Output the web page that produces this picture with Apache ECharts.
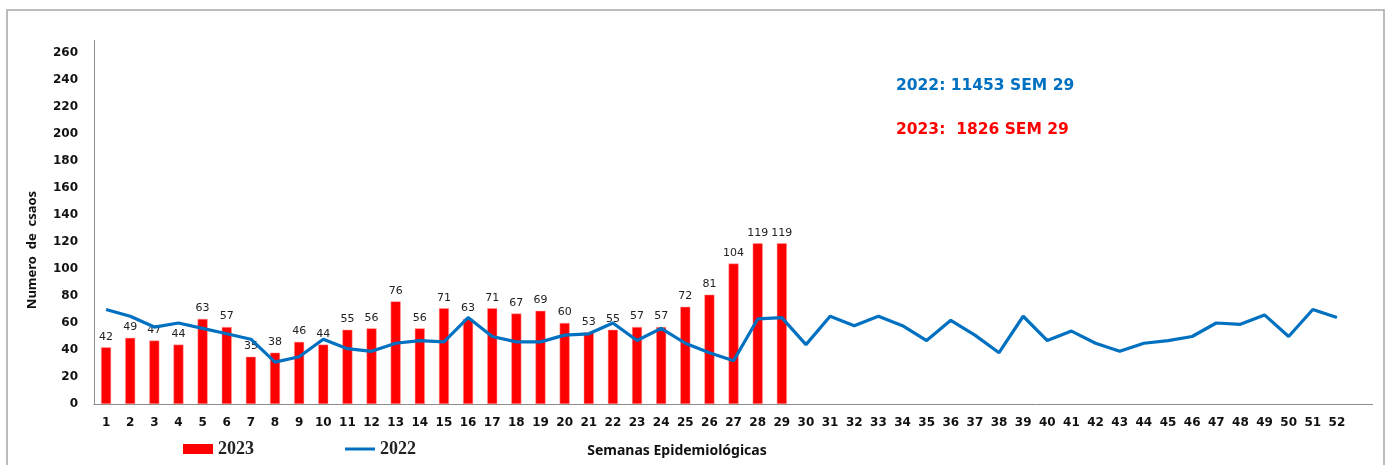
<!DOCTYPE html>
<html>
<head>
<meta charset="utf-8">
<script src="https://cdn.jsdelivr.net/npm/echarts@6/dist/echarts.min.js"></script>
<style>html,body{margin:0;padding:0;background:#fff;}#c{width:1386px;height:465px;}</style>
</head>
<body>
<div id="c"></div>
<script>
var weeks = [];
for (var i = 1; i <= 52; i++) weeks.push(String(i));
var cases2023 = [42,49,47,44,63,57,35,38,46,44,55,56,76,56,71,63,71,67,69,60,53,55,57,57,72,81,104,119,119];
var cases2022 = [70,65,57,60,56,52,48,31,35,48,41,39,45,47,46,64,50,46,46,51,52,60,47,56,45,38,32,63,64,44,65,58,65,58,47,62,51,38,65,47,54,45,39,45,47,50,60,59,66,50,70,64];
var yTicks = {min: 0, max: 260, interval: 20};

var legendText = {fontFamily: 'Liberation Serif', fontWeight: 'bold', fontSize: 18, color: '#222'};
var chart = echarts.init(document.getElementById('c'));
chart.setOption({
  animation: false,
  backgroundColor: '#fff',
  grid: {left: 94, right: 37, top: 53, bottom: 61},
  legend: [{
    data: [{name: '2023', icon: 'rect', itemStyle: {color: '#ff0000', borderWidth: 0}}], left: 178, top: 435, itemWidth: 30, itemHeight: 10, itemGap: 2,
    textStyle: legendText
  }, {
    data: [{name: '2022', icon: 'rect'}], left: 340, top: 435, itemWidth: 30, itemHeight: 3, itemGap: 2,
    textStyle: legendText
  }],
  xAxis: {
    type: 'category', data: weeks,
    axisLine: {lineStyle: {color: '#8c8c8c', width: 1}},
    axisTick: {show: false},
    axisLabel: {interval: 0, fontFamily: 'DejaVu Sans', fontWeight: 'bold', fontSize: 12, color: '#111', margin: 13}
  },
  yAxis: {
    type: 'value', min: yTicks.min, max: yTicks.max, interval: yTicks.interval,
    axisLine: {show: true, lineStyle: {color: '#8c8c8c', width: 1}},
    axisTick: {show: false},
    splitLine: {show: false},
    axisLabel: {fontFamily: 'DejaVu Sans', fontWeight: 'bold', fontSize: 12, color: '#111', margin: 16}
  },
  series: [{
    name: '2023', type: 'bar', data: cases2023, barWidth: 10,
    itemStyle: {color: '#ff0000', borderColor: '#ff9a9a', borderWidth: 0.5},
    label: {show: true, position: 'top', distance: 5, fontFamily: 'DejaVu Sans', fontSize: 11, color: '#222'},
    z: 2
  }, {
    name: '2022', type: 'line', data: cases2022, symbol: 'none',
    lineStyle: {color: '#0070c0', width: 3.2}, itemStyle: {color: '#0070c0'}, z: 3
  }],
  graphic: [
    {type: 'rect', shape: {x: 7, y: 10, width: 1377, height: 470}, style: {fill: 'none', stroke: '#a6a6a6', lineWidth: 1.5}, silent: true},
    {type: 'line', shape: {x1: 94.5, y1: 40, x2: 94.5, y2: 53}, style: {stroke: '#8c8c8c', lineWidth: 1}},
    {type: 'line', shape: {x1: 1349, y1: 404.5, x2: 1373, y2: 404.5}, style: {stroke: '#8c8c8c', lineWidth: 1}},
    {type: 'text', x: 677, y: 451, style: {text: 'Semanas Epidemiológicas', fill: '#111', font: 'bold 14px "Noto Sans"', textAlign: 'center', textVerticalAlign: 'middle'}},
    {type: 'text', x: 32, y: 250, rotation: Math.PI / 2, style: {text: 'Numero  de  csaos', fill: '#111', font: 'bold 13px "Noto Sans"', textAlign: 'center', textVerticalAlign: 'middle'}},
    {type: 'text', left: 896, top: 78, style: {text: '2022: 11453 SEM 29', fill: '#0070c0', font: 'bold 15.5px "DejaVu Sans"'}},
    {type: 'text', left: 896, top: 122, style: {text: '2023:  1826 SEM 29', fill: '#ff0000', font: 'bold 15.5px "DejaVu Sans"'}}
  ]
});
</script>
</body>
</html>
